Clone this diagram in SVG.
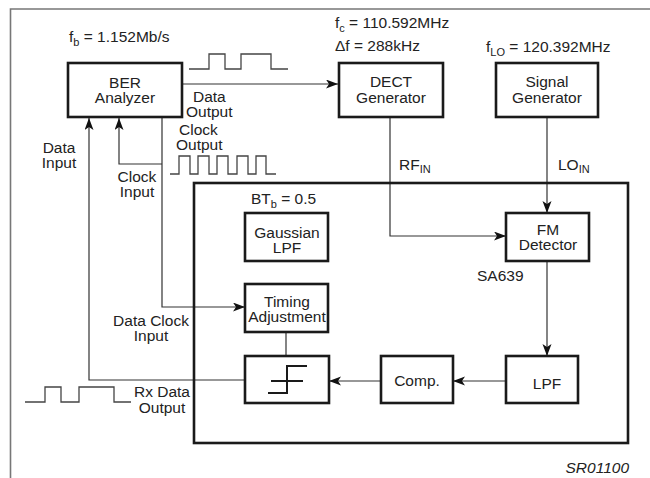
<svg xmlns="http://www.w3.org/2000/svg" width="650" height="478" viewBox="0 0 650 478">
<defs>
<marker id="ah" markerUnits="userSpaceOnUse" markerWidth="14" markerHeight="10" refX="12" refY="4.5" orient="auto" viewBox="0 0 14 10">
<path d="M0,0 L12,4.5 L0,9 L3,4.5 Z" fill="#111"/>
</marker>
</defs>
<style>
text{font-family:"Liberation Sans",Arial,sans-serif;font-size:15.5px;fill:#222}
.m{text-anchor:middle}
.box{fill:#fff;stroke:#1a1a1a;stroke-width:2.6}
.ln{fill:none;stroke:#333;stroke-width:1.2}
.wv{fill:none;stroke:#444;stroke-width:1.3}
.sub{font-size:11px}
</style>
<rect x="0" y="0" width="650" height="478" fill="#fff"/>
<path d="M10.5,478 V9 H650" fill="none" stroke="#777" stroke-width="1.6"/>

<g id="connectors">
<path class="ln" d="M182,84 H338" marker-end="url(#ah)"/>
<path class="ln" d="M162,117 V307 H245" marker-end="url(#ah)"/>
<path class="ln" d="M162,164 H119 V118" marker-end="url(#ah)"/>
<path class="ln" d="M245,380 H89 V118" marker-end="url(#ah)"/>
<path class="ln" d="M390,117 V236 H506" marker-end="url(#ah)"/>
<path class="ln" d="M547,117 V213" marker-end="url(#ah)"/>
<path class="ln" d="M547,261 V356" marker-end="url(#ah)"/>
<path class="ln" d="M506,381 H453" marker-end="url(#ah)"/>
<path class="ln" d="M381,381 H329" marker-end="url(#ah)"/>
<path class="ln" d="M286,332 V356"/>
</g>

<g id="waveforms">
<path class="wv" d="M189,69 H209 V54 H225 V69 H241 V54 H271 V69 H288"/>
<path class="wv" d="M170,174 H179 V156 H190 V174 H198 V156 H209 V174 H217 V156 H228 V174 H237 V156 H248 V174 H256 V156 H266 V174 H276"/>
<path class="wv" d="M25,402 H45 V387 H61 V402 H79 V387 H114 V402 H131"/>
</g>

<g id="inner-frame">
<rect x="194" y="183" width="434" height="260" fill="none" stroke="#1a1a1a" stroke-width="2.6"/>
</g>

<g id="labels">
<text x="69" y="42">f<tspan class="sub" dy="4">b</tspan><tspan dy="-4"> = 1.152Mb/s</tspan></text>
<text x="193" y="102">Data</text>
<text x="186" y="117">Output</text>
<text x="179" y="135">Clock</text>
<text x="176" y="150">Output</text>
<text class="m" x="59" y="153">Data</text>
<text class="m" x="59" y="168">Input</text>
<text class="m" x="137" y="182">Clock</text>
<text class="m" x="137" y="197">Input</text>
<text x="251" y="204">BT<tspan class="sub" dy="4">b</tspan><tspan dy="-4"> = 0.5</tspan></text>
<text class="m" x="151" y="326">Data Clock</text>
<text class="m" x="151" y="341">Input</text>
<text x="134" y="397">Rx Data</text>
<text class="m" x="162" y="413">Output</text>
<text x="335" y="28">f<tspan class="sub" dy="4">c</tspan><tspan dy="-4"> = 110.592MHz</tspan></text>
<text x="335" y="51">Δf = 288kHz</text>
<text x="486" y="52">f<tspan class="sub" dy="4">LO</tspan><tspan dy="-4"> = 120.392MHz</tspan></text>
<text x="399" y="170">RF<tspan class="sub" dy="3">IN</tspan></text>
<text x="558" y="170">LO<tspan class="sub" dy="3">IN</tspan></text>
<text x="477" y="281">SA639</text>
<text x="629" y="473" text-anchor="end" font-style="italic">SR01100</text>
</g>

<g id="ber">
<rect class="box" x="68" y="63" width="114" height="54"/>
<text class="m" x="125" y="88">BER</text>
<text class="m" x="125" y="103">Analyzer</text>
</g>
<g id="dect">
<rect class="box" x="339" y="63" width="104" height="54"/>
<text class="m" x="391" y="87">DECT</text>
<text class="m" x="391" y="103">Generator</text>
</g>
<g id="siggen">
<rect class="box" x="496" y="63" width="102" height="54"/>
<text class="m" x="547" y="87">Signal</text>
<text class="m" x="547" y="103">Generator</text>
</g>
<g id="gauss">
<rect class="box" x="245" y="213" width="83" height="48"/>
<text class="m" x="287" y="238">Gaussian</text>
<text class="m" x="287" y="253">LPF</text>
</g>
<g id="timing">
<rect class="box" x="245" y="284" width="83" height="48"/>
<text class="m" x="287" y="307">Timing</text>
<text class="m" x="287" y="322">Adjustment</text>
</g>
<g id="fm">
<rect class="box" x="506" y="213" width="83" height="48"/>
<text class="m" x="548" y="235">FM</text>
<text class="m" x="548" y="250">Detector</text>
</g>
<g id="slicer">
<rect class="box" x="245" y="356" width="84" height="47"/>
<path d="M307,366 H287 V393 H268 M271,381 H303" fill="none" stroke="#1a1a1a" stroke-width="2"/>
</g>
<g id="comp">
<rect class="box" x="381" y="356" width="72" height="47"/>
<text class="m" x="417" y="386">Comp.</text>
</g>
<g id="lpf">
<rect class="box" x="506" y="356" width="72" height="47"/>
<text class="m" x="547" y="389">LPF</text>
</g>
</svg>
